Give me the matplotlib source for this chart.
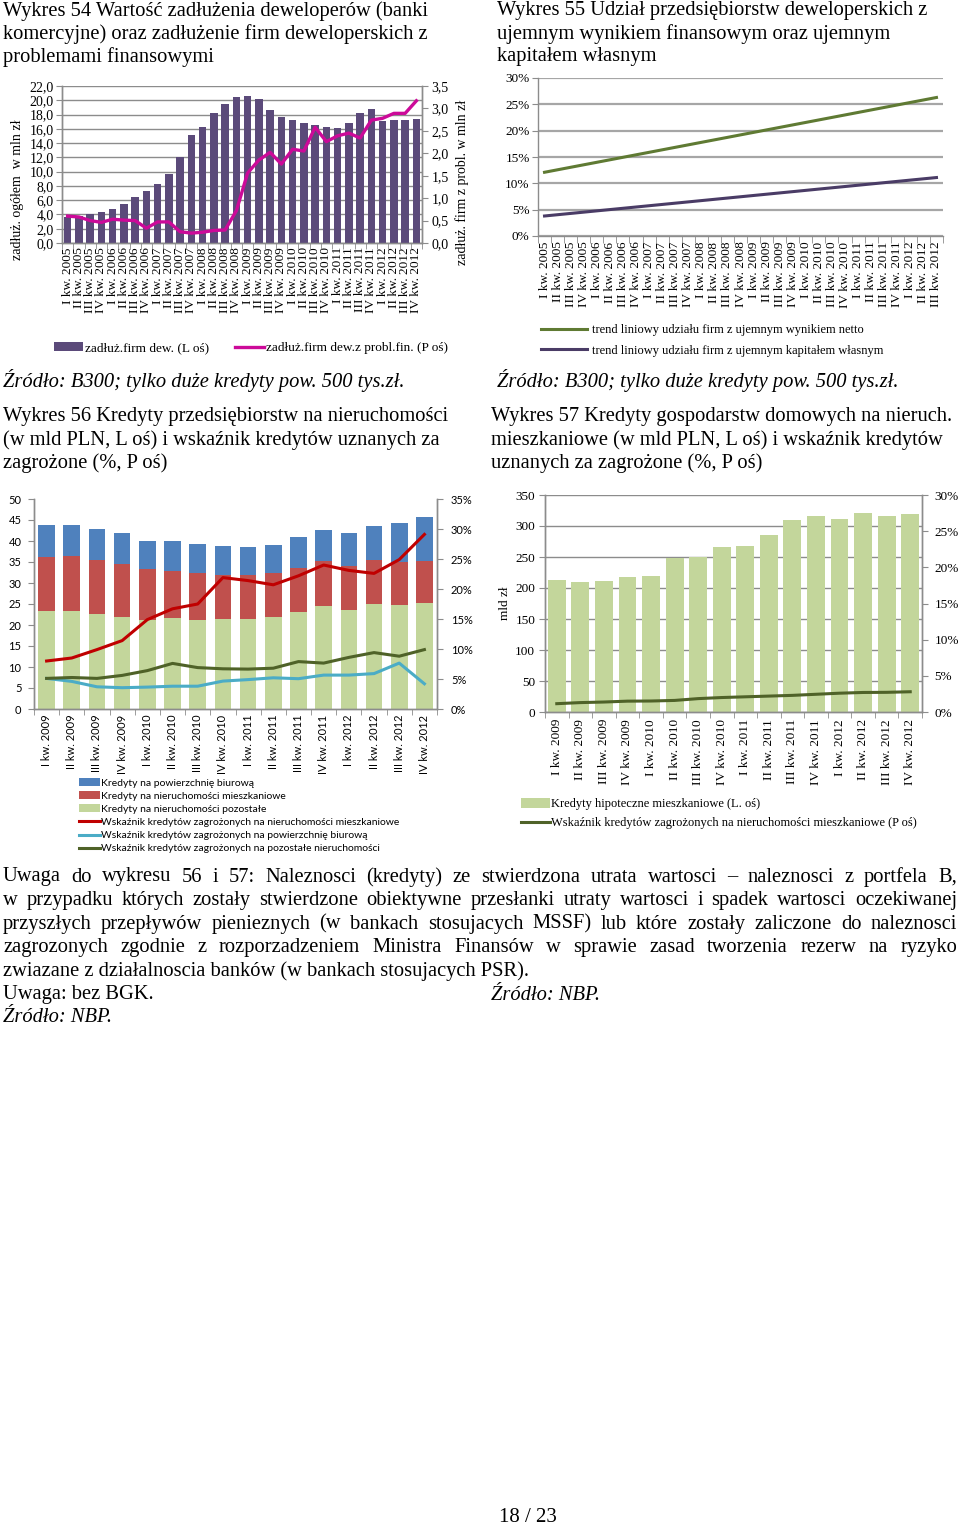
import numpy as np
import matplotlib
matplotlib.use('Agg')
import matplotlib.pyplot as plt

# ---------------- data ----------------
quarters_05_12 = [f"{r} kw. {y}" for y in range(2005, 2013) for r in ['I', 'II', 'III', 'IV']]
quarters_09_12 = [f"{r} kw. {y}" for y in range(2009, 2013) for r in ['I', 'II', 'III', 'IV']]

# Wykres 54
dev_debt_total = [3.7, 3.8, 4.1, 4.3, 4.7, 5.5, 6.5, 7.3, 8.2, 9.7, 12.1, 15.1, 16.3, 18.2, 19.5, 20.4,
                  20.6, 20.2, 18.6, 17.6, 17.3, 16.8, 16.5, 16.2, 16.1, 16.8, 18.2, 18.8, 17.1, 17.3, 17.3, 17.4]
dev_debt_problem = [0.60, 0.58, 0.50, 0.46, 0.53, 0.51, 0.50, 0.33, 0.47, 0.47, 0.25, 0.22, 0.24, 0.28, 0.29, 0.72,
                    1.56, 1.85, 2.02, 1.76, 2.09, 2.05, 2.58, 2.26, 2.39, 2.45, 2.34, 2.74, 2.78, 2.89, 2.89, 3.17]
ticks54_left = [0, 2, 4, 6, 8, 10, 12, 14, 16, 18, 20, 22]
ticks54_right = [0, 0.5, 1.0, 1.5, 2.0, 2.5, 3.0, 3.5]

# Wykres 55 (linear trends: start and end values, %)
quarters_55 = quarters_05_12[:31]
trend_net_loss = [12.1, 26.3]
trend_neg_equity = [3.8, 11.1]
ticks55 = [0, 5, 10, 15, 20, 25, 30]

# Wykres 56
loans_other = [23.4, 23.4, 22.7, 21.9, 21.3, 21.7, 21.2, 21.5, 21.5, 21.9, 23.0, 24.6, 23.6, 25.1, 24.7, 25.2]
loans_resid = [12.9, 13.1, 12.7, 12.6, 12.0, 11.2, 11.1, 10.4, 10.5, 10.5, 10.5, 10.7, 10.5, 10.3, 10.4, 10.0]
loans_office = [7.5, 7.4, 7.4, 7.4, 6.7, 7.1, 6.9, 6.9, 6.6, 6.6, 7.5, 7.3, 7.8, 8.1, 9.3, 10.5]
npl_resid = [8.0, 8.5, 9.9, 11.4, 14.9, 16.7, 17.5, 21.9, 21.4, 20.7, 22.2, 24.0, 23.1, 22.6, 24.9, 29.1]
npl_office = [5.1, 4.6, 3.7, 3.55, 3.65, 3.8, 3.8, 4.65, 4.9, 5.2, 5.05, 5.65, 5.65, 5.9, 7.65, 4.2]
npl_other = [5.1, 5.25, 5.1, 5.6, 6.4, 7.6, 6.9, 6.7, 6.65, 6.8, 7.9, 7.65, 8.6, 9.4, 8.8, 9.9]
ticks56_left = [0, 5, 10, 15, 20, 25, 30, 35, 40, 45, 50]
ticks56_right = [0, 5, 10, 15, 20, 25, 30, 35]

# Wykres 57
mortgages = [212.7, 210.0, 210.5, 217.0, 218.6, 247.7, 249.9, 266.0, 268.0, 286.0, 310.0, 316.6, 310.7, 321.0, 316.6, 319.3]
npl_mortgage = [1.15, 1.3, 1.38, 1.5, 1.52, 1.6, 1.85, 2.0, 2.1, 2.2, 2.3, 2.45, 2.6, 2.7, 2.72, 2.8]
ticks57_left = [0, 50, 100, 150, 200, 250, 300, 350]
ticks57_right = [0, 5, 10, 15, 20, 25, 30]

# ---------------- figure ----------------
W, H = 960, 1527
fig = plt.figure(figsize=(W / 100, H / 100), dpi=100)
SERIF = ['Liberation Serif', 'DejaVu Serif']
SANS = ['Lato', 'DejaVu Sans']
GRID = '#8C8C8C'
AXC = '#8C8C8C'


def axpx(l, t, r, b):
    return fig.add_axes([l / W, 1 - b / H, (r - l) / W, (b - t) / H])


def ftext(x, y, s, **kw):
    kw.setdefault('family', SERIF)
    kw.setdefault('va', 'center')
    return fig.text(x / W, 1 - y / H, s, **kw)


def comma(v, fmt):
    return (fmt % v).replace('.', ',')


def style_axes(ax, spines=('left', 'bottom')):
    for s in ['left', 'right', 'top', 'bottom']:
        ax.spines[s].set_visible(s in spines)
        ax.spines[s].set_color(AXC)
        ax.spines[s].set_linewidth(1.0)
    ax.set_facecolor('none')


# ======== Wykres 54 ========
TS = 14.8
ftext(3, 11, "Wykres 54 Wartość zadłużenia deweloperów (banki", fontsize=TS)
ftext(3, 34, "komercyjne) oraz zadłużenie firm deweloperskich z", fontsize=TS)
ftext(3, 57, "problemami finansowymi", fontsize=TS)

ax = axpx(62, 86, 422, 243)
n54 = len(quarters_05_12)
x54 = np.arange(n54)
bars54 = ax.bar(x54, dev_debt_total, width=0.65, color='#5B4A7A', zorder=3,
                label='zadłuż.firm dew. (L oś)')
ax.set_xlim(-0.5, n54 - 0.5)
ax.set_ylim(0, 22)
ax.set_yticks(ticks54_left)
ax.set_yticklabels([comma(v, '%.1f') for v in ticks54_left], family=SERIF, fontsize=10)
ax.yaxis.grid(True, color=GRID, linewidth=1.0, zorder=0)
ax.set_axisbelow(True)
ax.set_xticks(x54)
ax.set_xticklabels(quarters_05_12, rotation=90, family=SERIF, fontsize=9.5)
ax.set_xticks(np.arange(-0.5, n54), minor=True)
ax.tick_params(axis='x', which='major', length=0, pad=3)
ax.tick_params(axis='x', which='minor', length=4, color=AXC)
ax.tick_params(axis='y', length=4, color=AXC, pad=2)
style_axes(ax, ('left', 'bottom', 'right'))
ax2 = ax.twinx()
line54, = ax2.plot(x54, dev_debt_problem, color='#CC0A99', linewidth=2.4, zorder=4,
                   label='zadłuż.firm dew.z probl.fin. (P oś)')
ax2.set_ylim(0, 3.5)
ax2.set_yticks(ticks54_right)
ax2.set_yticklabels([comma(v, '%.1f') for v in ticks54_right], family=SERIF, fontsize=10)
ax2.tick_params(axis='y', length=4, color=AXC, pad=3)
style_axes(ax2, ('left', 'bottom', 'right'))
ftext(18, 190, "zadłuż. ogółem  w mln zł", rotation=90, ha='center', fontsize=10)
ftext(462, 182, "zadłuż. firm z probl. w mln zł", rotation=90, ha='center', fontsize=10)
fig.legend(handles=[bars54, line54], loc='center', bbox_to_anchor=(251 / W, 1 - 348 / H),
           ncol=2, frameon=False, prop={'family': SERIF, 'size': 9.5}, handlelength=2.2,
           handleheight=0.6, handletextpad=0.1, columnspacing=2.0)
ftext(3, 381, "Źródło: B300; tylko duże kredyty pow. 500 tys.zł.", fontsize=TS, style='italic')

# ======== Wykres 55 ========
ftext(497, 11, "Wykres 55 Udział przedsiębiorstw deweloperskich z", fontsize=TS)
ftext(497, 34, "ujemnym wynikiem finansowym oraz ujemnym", fontsize=TS)
ftext(497, 57, "kapitałem własnym", fontsize=TS)

ax = axpx(538, 78, 943, 236)
n55 = len(quarters_55)
x55 = np.arange(n55)
l1, = ax.plot([x55[0], x55[-1]], trend_net_loss, color='#5F7A33', linewidth=2.2,
              label='trend liniowy udziału firm z ujemnym wynikiem netto', zorder=3)
l2, = ax.plot([x55[0], x55[-1]], trend_neg_equity, color='#4A3C66', linewidth=2.2,
              label='trend liniowy udziału firm z ujemnym kapitałem własnym', zorder=3)
ax.set_xlim(-0.5, n55 - 0.5)
ax.set_ylim(0, 30)
ax.set_yticks(ticks55)
ax.set_yticklabels([f"{v}%" for v in ticks55], family=SERIF, fontsize=9.5)
ax.yaxis.grid(True, color='#A6A6A6', linewidth=1.6, zorder=0)
ax.set_xticks(x55)
ax.set_xticklabels(quarters_55, rotation=90, family=SERIF, fontsize=9.5)
ax.set_xticks(np.arange(-0.5, n55), minor=True)
ax.tick_params(axis='x', which='major', length=0, pad=4)
ax.tick_params(axis='x', which='minor', length=5, color=AXC)
ax.tick_params(axis='y', length=4, color=AXC, pad=2)
style_axes(ax, ('left', 'bottom'))
fig.legend(handles=[l1, l2], loc='upper left', bbox_to_anchor=(536 / W, 1 - 319 / H),
           ncol=1, frameon=False, prop={'family': SERIF, 'size': 9}, handlelength=3.7,
           handletextpad=0.35, labelspacing=0.7, borderaxespad=0)
ftext(497, 381, "Źródło: B300; tylko duże kredyty pow. 500 tys.zł.", fontsize=TS, style='italic')

# ======== Wykres 56 ========
ftext(3, 417, "Wykres 56 Kredyty przedsiębiorstw na nieruchomości", fontsize=TS)
ftext(3, 440, "(w mld PLN, L oś) i wskaźnik kredytów uznanych za", fontsize=TS)
ftext(3, 463, "zagrożone (%, P oś)", fontsize=TS)

ax = axpx(34, 499, 437, 709)
n56 = len(quarters_09_12)
x56 = np.arange(n56)
bw = 0.66
b_other = ax.bar(x56, loans_other, width=bw, color='#C3D69B', zorder=2,
                 label='Kredyty na nieruchomości pozostałe')
b_res = ax.bar(x56, loans_resid, width=bw, bottom=loans_other, color='#C0504D', zorder=2,
               label='Kredyty na nieruchomości mieszkaniowe')
b_off = ax.bar(x56, loans_office, width=bw, bottom=np.add(loans_other, loans_resid),
               color='#4F81BD', zorder=2, label='Kredyty na powierzchnię biurową')
ax.set_xlim(-0.5, n56 - 0.5)
ax.set_ylim(0, 50)
ax.set_yticks(ticks56_left)
ax.set_yticklabels([str(v) for v in ticks56_left], family=SANS, fontsize=8)
ax.set_xticks(x56)
ax.set_xticklabels(quarters_09_12, rotation=90, family=SANS, fontsize=8)
ax.set_xticks(np.arange(-0.5, n56), minor=True)
ax.tick_params(axis='x', which='major', length=0, pad=4)
ax.tick_params(axis='x', which='minor', length=4, color=AXC)
ax.tick_params(axis='y', length=4, color=AXC, pad=5)
style_axes(ax, ('left', 'bottom', 'right'))
ax2 = ax.twinx()
r1, = ax2.plot(x56, npl_resid, color='#C00000', linewidth=2.2,
               label='Wskaźnik kredytów zagrożonych na nieruchomości mieszkaniowe')
r2, = ax2.plot(x56, npl_office, color='#4BACC6', linewidth=2.2,
               label='Wskaźnik kredytów zagrożonych na powierzchnię biurową')
r3, = ax2.plot(x56, npl_other, color='#4F6228', linewidth=2.2,
               label='Wskaźnik kredytów zagrożonych na pozostałe nieruchomości')
ax2.set_ylim(0, 35)
ax2.set_yticks(ticks56_right)
ax2.set_yticklabels([f"{v}%" for v in ticks56_right], family=SANS, fontsize=8)
ax2.tick_params(axis='y', length=4, color=AXC, pad=6)
style_axes(ax2, ('left', 'bottom', 'right'))
fig.legend(handles=[b_off, b_res, b_other, r1, r2, r3], loc='upper left',
           bbox_to_anchor=(75 / W, 1 - 774 / H), ncol=1, frameon=False,
           prop={'family': SANS, 'size': 7.5}, handlelength=2.0, handleheight=0.8,
           handletextpad=0.1, labelspacing=0.34, borderaxespad=0)

# ======== Wykres 57 ========
ftext(491, 417, "Wykres 57 Kredyty gospodarstw domowych na nieruch.", fontsize=TS)
ftext(491, 440, "mieszkaniowe (w mld PLN, L oś) i wskaźnik kredytów", fontsize=TS)
ftext(491, 463, "uznanych za zagrożone (%, P oś)", fontsize=TS)

ax = axpx(545, 495, 922, 712)
n57 = len(quarters_09_12)
x57 = np.arange(n57)
b57 = ax.bar(x57, mortgages, width=0.76, color='#C3D69B', zorder=2,
             label='Kredyty hipoteczne mieszkaniowe (L. oś)')
ax.set_xlim(-0.5, n57 - 0.5)
ax.set_ylim(0, 350)
ax.set_yticks(ticks57_left)
ax.set_yticklabels([str(v) for v in ticks57_left], family=SERIF, fontsize=9.5)
ax.yaxis.grid(True, color=GRID, linewidth=1.0, zorder=0)
ax.set_axisbelow(True)
ax.set_xticks(x57)
ax.set_xticklabels(quarters_09_12, rotation=90, family=SERIF, fontsize=9.5)
ax.set_xticks(np.arange(-0.5, n57), minor=True)
ax.tick_params(axis='x', which='major', length=0, pad=5)
ax.tick_params(axis='x', which='minor', length=4, color=AXC)
ax.tick_params(axis='y', length=4, color=AXC, pad=3)
style_axes(ax, ('left', 'bottom', 'right'))
ftext(505, 603, "mld zł", rotation=90, ha='center', fontsize=9.5)
ax2 = ax.twinx()
l57, = ax2.plot(x57, npl_mortgage, color='#4F6228', linewidth=2.2,
                label='Wskaźnik kredytów zagrożonych na nieruchomości mieszkaniowe (P oś)')
ax2.set_ylim(0, 30)
ax2.set_yticks(ticks57_right)
ax2.set_yticklabels([f"{v}%" for v in ticks57_right], family=SERIF, fontsize=9.5)
ax2.tick_params(axis='y', length=4, color=AXC, pad=5)
style_axes(ax2, ('left', 'bottom', 'right'))
fig.legend(handles=[b57, l57], loc='upper left', bbox_to_anchor=(516 / W, 1 - 793 / H),
           ncol=1, frameon=False, prop={'family': SERIF, 'size': 9}, handlelength=2.3,
           handleheight=0.8, handletextpad=0.1, labelspacing=0.55, borderaxespad=0)

# ======== paragraph ========
renderer = fig.canvas.get_renderer()


def justify(y, line, x0, x1, size):
    words = line.split(' ')
    ts = [ftext(0, y, w, fontsize=size) for w in words]
    widths = [t.get_window_extent(renderer).width for t in ts]
    gap = (x1 - x0 - sum(widths)) / (len(words) - 1)
    x = x0
    for t, w in zip(ts, widths):
        t.set_x(x / W)
        x += w + gap


PS = 14.8
para = [
    "Uwaga do wykresu 56 i 57: Naleznosci (kredyty) ze stwierdzona utrata wartosci – naleznosci z portfela B,",
    "w przypadku których zostały stwierdzone obiektywne przesłanki utraty wartosci i spadek wartosci oczekiwanej",
    "przyszłych przepływów pienieznych (w bankach stosujacych MSSF) lub które zostały zaliczone do naleznosci",
    "zagrozonych zgodnie z rozporzadzeniem Ministra Finansów w sprawie zasad tworzenia rezerw na ryzyko",
]
for i, line in enumerate(para):
    justify(877 + i * 23.5, line, 3, 957, PS)
ftext(3, 971, "zwiazane z działalnoscia banków (w bankach stosujacych PSR).", fontsize=PS)
ftext(3, 995, "Uwaga: bez BGK.", fontsize=PS)
ftext(491, 995, "Źródło: NBP.", fontsize=PS, style='italic')
ftext(3, 1018, "Źródło: NBP.", fontsize=PS, style='italic')
ftext(528, 1517, "18 / 23", fontsize=15, ha='center')

fig.savefig('out.png', dpi=100, facecolor='white')
